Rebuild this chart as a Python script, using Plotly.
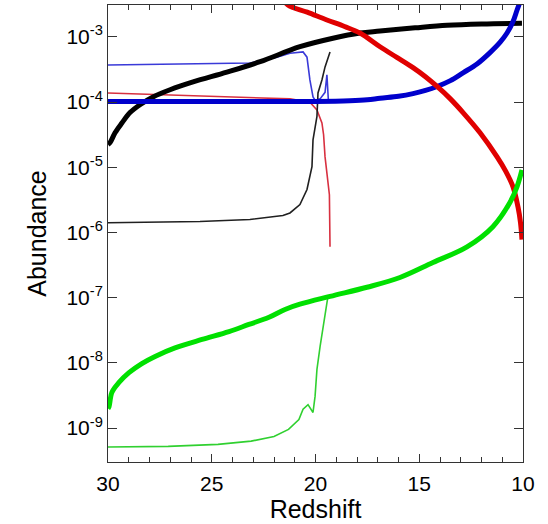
import plotly.graph_objects as go

# ---- data (redshift, log10 abundance) ----
z_black_thick = [30.0, 29.90, 29.66, 29.33, 28.94, 28.46, 27.83, 27.01, 25.90, 24.27, 22.67, 20.75, 19.16, 17.86, 16.89, 15.2, 13.66, 12.0, 10.05]
y_black_thick = [-4.65, -4.62, -4.47, -4.32, -4.16, -4.04, -3.92, -3.81, -3.69, -3.54, -3.38, -3.15, -3.02, -2.94, -2.91, -2.86, -2.82, -2.80, -2.79]

z_blue_thick = [30.0, 25.0, 20.0, 18.34, 17.5, 16.89, 16.0, 15.30, 14.7, 14.14, 13.5, 12.89, 12.2, 11.59, 11.1, 10.77, 10.5, 10.29, 10.1, 10.0]
y_blue_thick = [-3.99, -3.99, -3.99, -3.98, -3.965, -3.94, -3.91, -3.87, -3.82, -3.76, -3.67, -3.55, -3.41, -3.24, -3.08, -2.94, -2.78, -2.59, -2.42, -2.30]

z_red_thick = [21.6, 21.33, 20.4, 19.45, 18.6, 17.86, 16.89, 16.1, 15.30, 14.7, 14.14, 13.5, 12.89, 12.07, 11.25, 10.85, 10.48, 10.24, 10.12, 10.05]
y_red_thick = [-2.40, -2.51, -2.62, -2.74, -2.84, -2.94, -3.15, -3.31, -3.47, -3.61, -3.76, -3.95, -4.16, -4.47, -4.84, -5.05, -5.30, -5.61, -5.85, -6.11]

z_green_thick = [30.0, 29.95, 29.81, 29.47, 28.99, 28.37, 27.73, 26.77, 25.47, 24.17, 23.21, 22.24, 21.47, 20.75, 19.30, 17.52, 15.93, 14.34, 12.70, 11.45, 10.63, 10.29, 10.05]
y_green_thick = [-8.70, -8.67, -8.45, -8.30, -8.15, -8.01, -7.90, -7.77, -7.64, -7.52, -7.41, -7.30, -7.18, -7.10, -6.98, -6.84, -6.69, -6.46, -6.22, -5.91, -5.54, -5.30, -5.04]

z_blue_thin = [30.0, 23.16, 21.86, 21.23, 20.6, 20.41, 20.27, 20.12, 20.02, 19.78, 19.54, 19.45, 19.38, 19.30, 19.16]
y_blue_thin = [-3.43, -3.40, -3.31, -3.25, -3.23, -3.31, -3.66, -3.92, -3.97, -3.95, -3.85, -3.58, -3.97, -3.99, -3.99]

z_red_thin = [30.0, 25.57, 22.34, 21.23, 20.27, 19.93, 19.69, 19.61, 19.54, 19.45, 19.40, 19.33, 19.30]
y_red_thin = [-3.86, -3.90, -3.93, -3.95, -4.00, -4.12, -4.32, -4.50, -4.84, -5.11, -5.30, -5.42, -6.22]

z_black_thin = [30.0, 25.57, 23.16, 21.57, 21.23, 20.75, 20.41, 20.17, 20.12, 20.02, 19.93, 19.88, 19.69, 19.54, 19.30]
y_black_thin = [-5.85, -5.83, -5.80, -5.74, -5.70, -5.57, -5.34, -4.99, -4.58, -4.38, -4.22, -3.86, -3.66, -3.46, -3.23]

z_green_thin = [30.0, 27.1, 24.7, 23.1, 22.0, 21.3, 20.8, 20.60, 20.36, 20.12, 20.02, 19.93, 19.78, 19.54, 19.40]
y_green_thin = [-9.29, -9.28, -9.25, -9.20, -9.13, -9.02, -8.87, -8.71, -8.64, -8.76, -8.51, -8.10, -7.75, -7.23, -6.98]

x_tickvals = [30, 25, 20, 15, 10]
y_tickvals = [1e-3, 1e-4, 1e-5, 1e-6, 1e-7, 1e-8, 1e-9]
y_ticktext = ["10<sup>-3</sup>", "10<sup>-4</sup>", "10<sup>-5</sup>", "10<sup>-6</sup>",
              "10<sup>-7</sup>", "10<sup>-8</sup>", "10<sup>-9</sup>"]

fig = go.Figure()

def add(z, ly, color, width, smooth):
    fig.add_trace(go.Scatter(
        x=z, y=[10 ** v for v in ly], mode="lines",
        line=dict(color=color, width=width, shape="spline" if smooth else "linear",
                  smoothing=smooth if smooth else 0),
        showlegend=False, hoverinfo="skip"))

add(z_blue_thin, y_blue_thin, "#3a3ad8", 1.6, 0)
add(z_red_thin, y_red_thin, "#d83040", 1.6, 0)
add(z_black_thin, y_black_thin, "#202020", 1.6, 0)
add(z_green_thin, y_green_thin, "#30d030", 1.6, 0)
add(z_black_thick, y_black_thick, "#000000", 5, 1.0)
add(z_blue_thick, y_blue_thick, "#0000cc", 5, 1.0)
add(z_red_thick, y_red_thick, "#e00000", 5, 1.0)
add(z_green_thick, y_green_thick, "#00e000", 5, 1.0)

font = dict(family="Liberation Sans, Arial, sans-serif", size=21, color="#000")

fig.update_layout(
    width=548, height=524,
    margin=dict(l=108, r=25, t=5, b=62),
    paper_bgcolor="white", plot_bgcolor="white",
    font=font,
    xaxis=dict(range=[30, 10], tickvals=x_tickvals, ticks="inside", ticklen=8,
               tickcolor="#333", showline=True, linecolor="#333", linewidth=1,
               mirror="ticks", showgrid=False, zeroline=False, ticklabelstandoff=3,
               minor=dict(dtick=1, ticks="inside", ticklen=5, tickcolor="#333"),
               title=dict(text="Redshift", standoff=3)),
    yaxis=dict(type="log", range=[-9.52, -2.51], tickvals=y_tickvals, ticktext=y_ticktext,
               ticks="inside", ticklen=9, tickcolor="#333", showline=True, linecolor="#333",
               linewidth=1, mirror="ticks", showgrid=False, zeroline=False,
               title=dict(text="Abundance", standoff=12)),
)

fig.write_html("out.html")
